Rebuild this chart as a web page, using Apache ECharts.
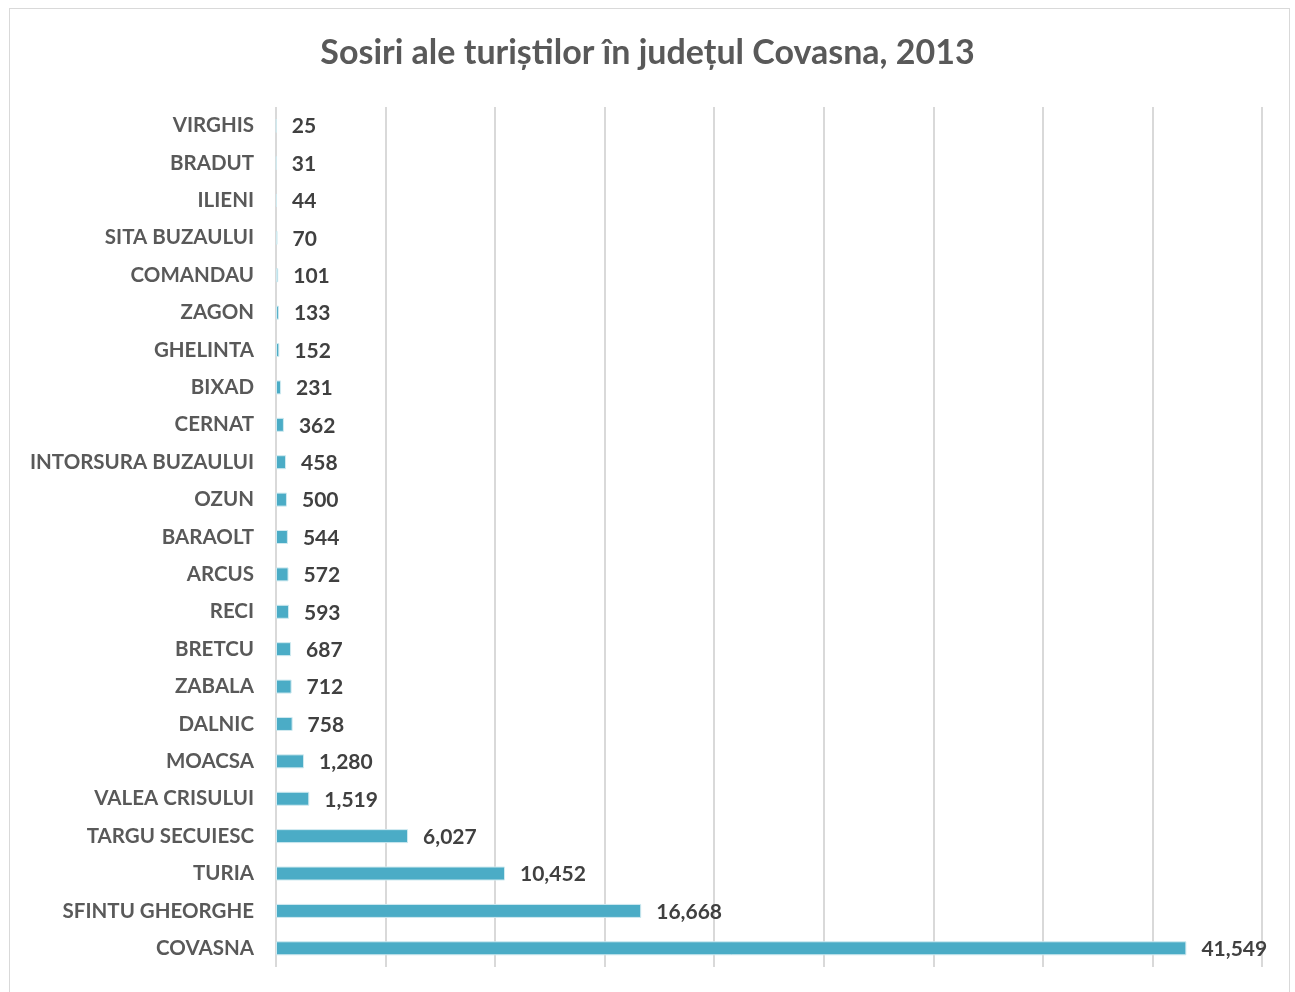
<!DOCTYPE html>
<html>
<head>
<meta charset="utf-8">
<script src="https://cdn.jsdelivr.net/npm/echarts@6/dist/echarts.min.js"></script>
<style>
html, body { margin: 0; padding: 0; background: #fff; }
#chart { width: 1295px; height: 992px; }
.frame { position: absolute; left: 9px; top: 8px; width: 1281px; height: 990px; border: 1px solid #d9d9d9; box-sizing: border-box; pointer-events: none; }
</style>
</head>
<body>
<div id="chart"></div>
<div class="frame"></div>
<script>
// categories from bottom to top, as the chart draws them
const localitati = ['COVASNA', 'SFINTU GHEORGHE', 'TURIA', 'TARGU SECUIESC', 'VALEA CRISULUI', 'MOACSA',
	'DALNIC', 'ZABALA', 'BRETCU', 'RECI', 'ARCUS', 'BARAOLT', 'OZUN', 'INTORSURA BUZAULUI', 'CERNAT',
	'BIXAD', 'GHELINTA', 'ZAGON', 'COMANDAU', 'SITA BUZAULUI', 'ILIENI', 'BRADUT', 'VIRGHIS'];
const sosiri = [41549, 16668, 10452, 6027, 1519, 1280, 758, 712, 687, 593, 572, 544, 500, 458, 362,
	231, 152, 133, 101, 70, 44, 31, 25];

const chart = echarts.init(document.getElementById('chart'));

const option = {
	backgroundColor: '#fff',
	title: {
		text: 'Sosiri ale turiștilor în județul Covasna, 2013',
		left: 'center',
		top: 31,
		textStyle: {
			color: '#595959',
			fontSize: 34,
			fontWeight: 'bold',
			fontFamily: 'Lato'
		}
	},
	grid: {
		left: 276,
		right: 33,
		top: 107,
		bottom: 25
	},
	xAxis: {
		type: 'value',
		min: 0,
		max: 45000,
		interval: 5000,
		axisLabel: { show: false },
		axisLine: { show: false },
		axisTick: { show: false },
		splitLine: {
			show: true,
			lineStyle: { color: '#d9d9d9', width: 2 }
		}
	},
	yAxis: {
		type: 'category',
		data: localitati,
		axisLine: { show: false },
		axisTick: { show: false },
		axisLabel: {
			color: '#595959',
			fontSize: 20.5,
			fontWeight: 'bold',
			fontFamily: 'Lato',
			margin: 22
		}
	},
	series: [{
		type: 'bar',
		data: sosiri,
		barWidth: 14,
		itemStyle: {
			color: '#4bacc6',
			borderColor: '#d0eaf0',
			borderWidth: 1
		},
		label: {
			show: true,
			position: 'right',
			distance: 15,
			offset: [0, 1],
			color: '#404040',
			fontSize: 21,
			fontWeight: 'bold',
			fontFamily: 'Lato',
			formatter: function (p) {
				return p.value.toLocaleString('en-US');
			}
		}
	}]
};

chart.setOption(option);
</script>
</body>
</html>
